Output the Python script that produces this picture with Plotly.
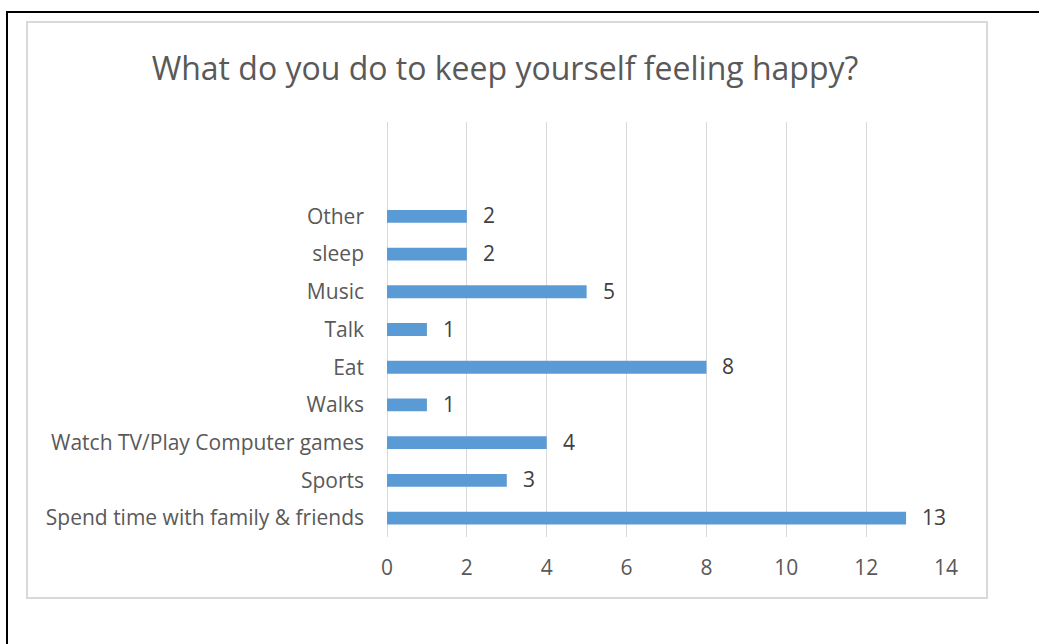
import plotly.graph_objects as go

# Survey responses: what people do to keep themselves feeling happy
categories = [
    "Spend time with family & friends",
    "Sports",
    "Watch TV/Play Computer games",
    "Walks",
    "Eat",
    "Talk",
    "Music",
    "sleep",
    "Other",
]
counts = [13, 3, 4, 1, 8, 1, 5, 2, 2]
x_ticks = [0, 2, 4, 6, 8, 10, 12, 14]

W, H = 1039, 644
L, R, T, B = 387, 93, 122, 107
FONT = "Open Sans"
TXT = "#595959"

fig = go.Figure(
    go.Bar(
        y=categories,
        x=counts,
        orientation="h",
        marker=dict(color="#5B9BD5", line=dict(width=0)),
        width=0.34,
    )
)

# value labels just past the end of each bar
annotations = [
    dict(x=c, y=cat, xref="x", yref="y", text=str(c), showarrow=False,
         xanchor="left", yanchor="middle", xshift=14, yshift=1,
         font=dict(family=FONT, size=21, color="#404040"))
    for cat, c in zip(categories, counts)
]


def px_x(p):
    return (p - L) / (W - L - R)


def px_y(p):
    return 1 - (p - T) / (H - T - B)


shapes = [
    # light frame around the chart
    dict(type="rect", xref="paper", yref="paper",
         x0=px_x(27), x1=px_x(987), y0=px_y(598), y1=px_y(22),
         line=dict(color="#D9D9D9", width=2), layer="below"),
    # document box edges
    dict(type="line", xref="paper", yref="paper",
         x0=px_x(6), x1=px_x(W + 5), y0=px_y(12), y1=px_y(12),
         line=dict(color="#000000", width=2)),
    dict(type="line", xref="paper", yref="paper",
         x0=px_x(7), x1=px_x(7), y0=px_y(12), y1=px_y(H + 5),
         line=dict(color="#000000", width=2)),
]

fig.update_layout(
    width=W,
    height=H,
    margin=dict(l=L, r=R, t=T, b=B, pad=0),
    paper_bgcolor="white",
    plot_bgcolor="white",
    showlegend=False,
    shapes=shapes,
    annotations=annotations,
    title=dict(
        text="What do you do to keep yourself feeling happy?",
        x=505 / W,
        xref="container",
        xanchor="center",
        y=1 - 69 / H,
        yref="container",
        yanchor="middle",
        font=dict(family=FONT, size=32, color=TXT),
    ),
    xaxis=dict(
        range=[0, 14],
        tickvals=x_ticks,
        showgrid=True,
        gridcolor="#D9D9D9",
        gridwidth=1,
        zeroline=True,
        zerolinecolor="#D9D9D9",
        zerolinewidth=1,
        showline=False,
        ticks="",
        ticklabelstandoff=16,
        tickfont=dict(family=FONT, size=21, color=TXT),
        layer="below traces",
    ),
    yaxis=dict(
        range=[-0.5, 10.5],
        categoryorder="array",
        categoryarray=categories,
        showgrid=False,
        zeroline=False,
        showline=False,
        ticks="",
        ticklabelstandoff=22,
        tickfont=dict(family=FONT, size=21, color=TXT),
    ),
    font=dict(family=FONT, color=TXT),
)

fig.write_html("out.html")
